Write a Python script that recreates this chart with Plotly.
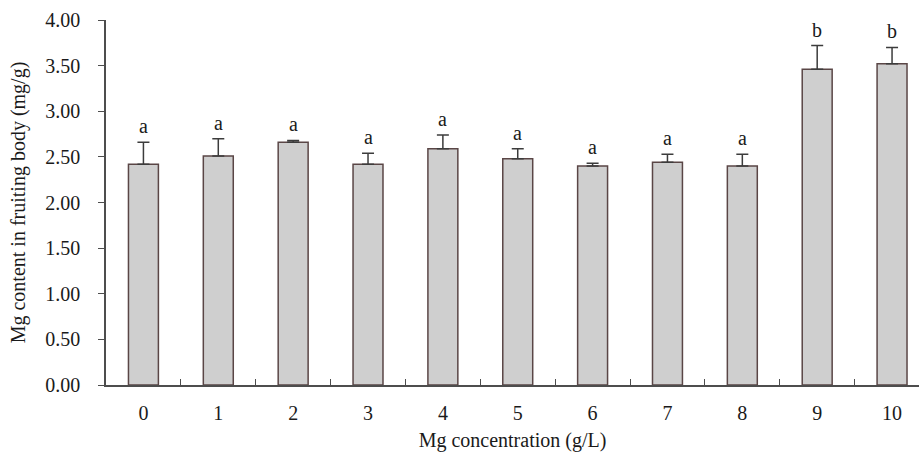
import plotly.graph_objects as go

# Mg content of fruiting bodies grown at different Mg concentrations
concentrations = ["0", "1", "2", "3", "4", "5", "6", "7", "8", "9", "10"]
mg_content = [2.42, 2.51, 2.66, 2.42, 2.59, 2.48, 2.40, 2.44, 2.40, 3.46, 3.52]
mg_error = [0.24, 0.19, 0.02, 0.12, 0.15, 0.11, 0.03, 0.09, 0.13, 0.26, 0.18]
groups = ["a", "a", "a", "a", "a", "a", "a", "a", "a", "b", "b"]
y_ticks = [0, 0.5, 1.0, 1.5, 2.0, 2.5, 3.0, 3.5, 4.0]

FONT = "Liberation Serif, Times New Roman, serif"
AXIS_COLOR = "#4d4d4d"

fig = go.Figure()

fig.add_trace(go.Bar(
    x=concentrations,
    y=mg_content,
    width=0.4,
    marker=dict(color="#cfcfcf", line=dict(color="#5a4646", width=1.5)),
    error_y=dict(
        type="data",
        symmetric=False,
        array=mg_error,
        arrayminus=[0] * len(mg_error),
        color="#3c3c3c",
        thickness=1.5,
        width=6,
    ),
    showlegend=False,
    hoverinfo="skip",
))

# significance letters above the error bars
for c, m, e, g in zip(concentrations, mg_content, mg_error, groups):
    fig.add_annotation(
        x=c, y=m + e, text=g, showarrow=False,
        yanchor="middle", yshift=16,
        font=dict(family=FONT, size=20, color="#1a1a1a"),
    )

fig.update_layout(
    width=919,
    height=452,
    margin=dict(l=106, r=0, t=20, b=67),
    paper_bgcolor="white",
    plot_bgcolor="white",
    font=dict(family=FONT, size=20, color="#1a1a1a"),
    bargap=0.6,
)

fig.update_xaxes(
    type="category",
    range=[-0.5, 10.36],
    showline=True,
    linecolor=AXIS_COLOR,
    linewidth=1.5,
    ticks="inside",
    tickson="boundaries",
    ticklen=6,
    tickwidth=1.2,
    tickcolor=AXIS_COLOR,
    ticklabelstandoff=9,
    showgrid=False,
    title=dict(text="Mg concentration (g/L)", font=dict(size=20), standoff=10),
)

fig.update_yaxes(
    range=[0, 4.0],
    tickvals=y_ticks,
    ticktext=[f"{v:.2f}" for v in y_ticks],
    showline=True,
    linecolor=AXIS_COLOR,
    linewidth=1.5,
    ticks="outside",
    ticklen=6,
    tickwidth=1.2,
    tickcolor=AXIS_COLOR,
    ticklabelstandoff=14,
    showgrid=False,
    zeroline=False,
    title=dict(text="Mg content in fruiting body (mg/g)", font=dict(size=20), standoff=14),
)

fig.write_html("out.html")
